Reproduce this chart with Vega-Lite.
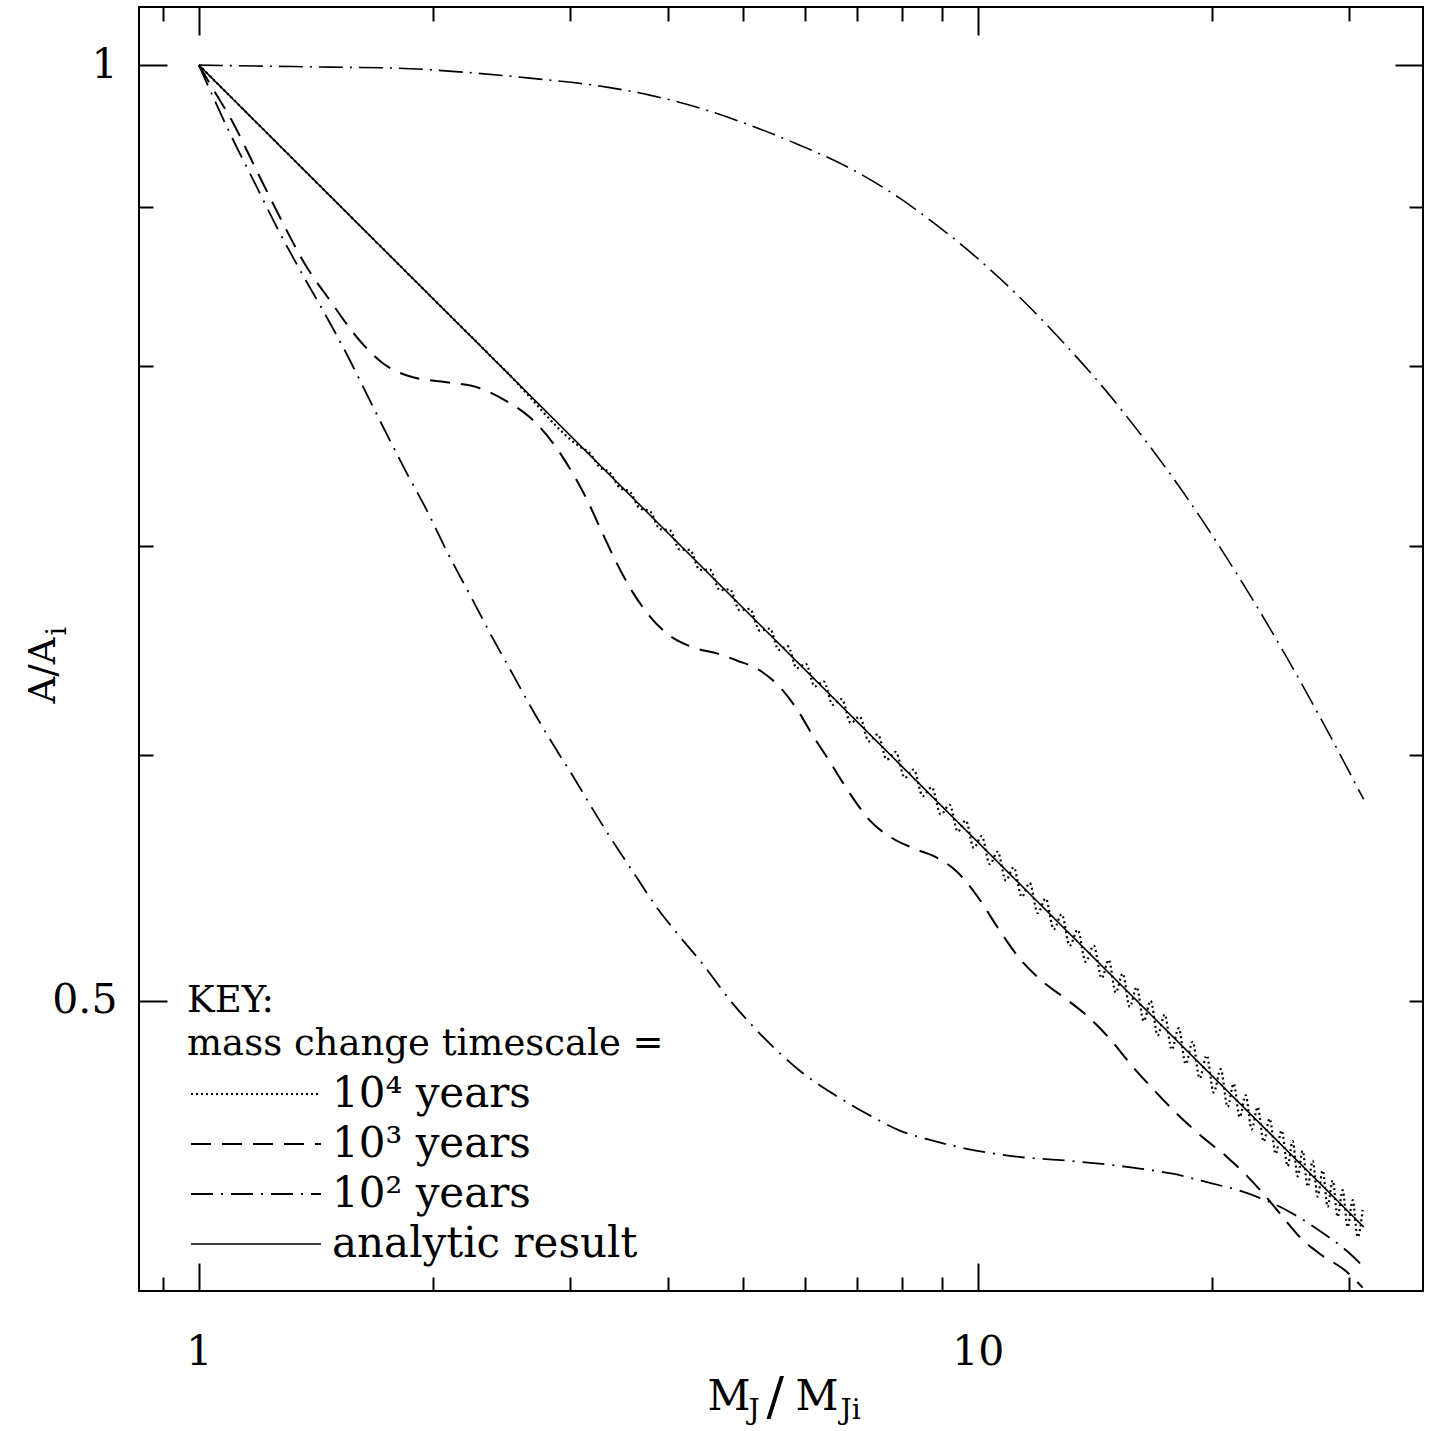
{
  "$schema": "https://vega.github.io/schema/vega-lite/v6.json",
  "autosize": {"type": "none"},
  "width": 1284,
  "height": 1284,
  "padding": {"left": 139, "top": 7, "right": 13, "bottom": 140},
  "background": "white",
  "config": {
    "view": {"stroke": "black", "strokeWidth": 2},
    "axis": {
      "tickColor": "black", "tickWidth": 2, "domain": false, "grid": false,
      "labelFont": "DejaVu Serif", "labelFontSize": 41, "labelColor": "black",
      "labelFlush": false, "labelOverlap": false,
      "titleFont": "DejaVu Serif", "titleColor": "black", "titleFontWeight": "normal"
    }
  },
  "data": {
    "values": [
      {"series": "analytic result", "M": 1, "A": 1},
      {"series": "analytic result", "M": 5, "A": 0.66874},
      {"series": "analytic result", "M": 10, "A": 0.56234},
      {"series": "analytic result", "M": 20, "A": 0.47287},
      {"series": "analytic result", "M": 31.3, "A": 0.4228},

      {"series": "10⁴ years", "M": 1, "A": 1},
      {"series": "10⁴ years", "M": 1.5, "A": 0.9036},
      {"series": "10⁴ years", "M": 2, "A": 0.8409},
      {"series": "10⁴ years", "M": 2.5, "A": 0.7953},
      {"series": "10⁴ years", "M": 3.0838, "A": 0.75372},
      {"series": "10⁴ years", "M": 3.1763, "A": 0.75013},
      {"series": "10⁴ years", "M": 3.2716, "A": 0.74232},
      {"series": "10⁴ years", "M": 3.3697, "A": 0.73948},
      {"series": "10⁴ years", "M": 3.4708, "A": 0.73108},
      {"series": "10⁴ years", "M": 3.575, "A": 0.72897},
      {"series": "10⁴ years", "M": 3.6822, "A": 0.72001},
      {"series": "10⁴ years", "M": 3.7927, "A": 0.71862},
      {"series": "10⁴ years", "M": 3.9065, "A": 0.70911},
      {"series": "10⁴ years", "M": 4.0237, "A": 0.70841},
      {"series": "10⁴ years", "M": 4.1444, "A": 0.69838},
      {"series": "10⁴ years", "M": 4.2687, "A": 0.69819},
      {"series": "10⁴ years", "M": 4.3968, "A": 0.68797},
      {"series": "10⁴ years", "M": 4.5287, "A": 0.68811},
      {"series": "10⁴ years", "M": 4.6645, "A": 0.67771},
      {"series": "10⁴ years", "M": 4.8045, "A": 0.67817},
      {"series": "10⁴ years", "M": 4.9486, "A": 0.66761},
      {"series": "10⁴ years", "M": 5.0971, "A": 0.66838},
      {"series": "10⁴ years", "M": 5.25, "A": 0.65766},
      {"series": "10⁴ years", "M": 5.4075, "A": 0.65873},
      {"series": "10⁴ years", "M": 5.5532, "A": 0.64834},
      {"series": "10⁴ years", "M": 5.7029, "A": 0.65018},
      {"series": "10⁴ years", "M": 5.8567, "A": 0.63962},
      {"series": "10⁴ years", "M": 6.0146, "A": 0.64174},
      {"series": "10⁴ years", "M": 6.1767, "A": 0.63102},
      {"series": "10⁴ years", "M": 6.3432, "A": 0.63341},
      {"series": "10⁴ years", "M": 6.5142, "A": 0.62253},
      {"series": "10⁴ years", "M": 6.6898, "A": 0.62519},
      {"series": "10⁴ years", "M": 6.8702, "A": 0.61416},
      {"series": "10⁴ years", "M": 7.0554, "A": 0.61708},
      {"series": "10⁴ years", "M": 7.2456, "A": 0.6059},
      {"series": "10⁴ years", "M": 7.4409, "A": 0.60906},
      {"series": "10⁴ years", "M": 7.6415, "A": 0.59776},
      {"series": "10⁴ years", "M": 7.8476, "A": 0.60116},
      {"series": "10⁴ years", "M": 8.0591, "A": 0.58972},
      {"series": "10⁴ years", "M": 8.2764, "A": 0.59336},
      {"series": "10⁴ years", "M": 8.4995, "A": 0.58178},
      {"series": "10⁴ years", "M": 8.7286, "A": 0.58565},
      {"series": "10⁴ years", "M": 8.964, "A": 0.57396},
      {"series": "10⁴ years", "M": 9.2056, "A": 0.57805},
      {"series": "10⁴ years", "M": 9.426, "A": 0.56666},
      {"series": "10⁴ years", "M": 9.6515, "A": 0.5714},
      {"series": "10⁴ years", "M": 9.8824, "A": 0.55987},
      {"series": "10⁴ years", "M": 10.119, "A": 0.56481},
      {"series": "10⁴ years", "M": 10.361, "A": 0.55315},
      {"series": "10⁴ years", "M": 10.609, "A": 0.55831},
      {"series": "10⁴ years", "M": 10.863, "A": 0.54652},
      {"series": "10⁴ years", "M": 11.123, "A": 0.55187},
      {"series": "10⁴ years", "M": 11.389, "A": 0.53997},
      {"series": "10⁴ years", "M": 11.661, "A": 0.54552},
      {"series": "10⁴ years", "M": 11.94, "A": 0.5335},
      {"series": "10⁴ years", "M": 12.226, "A": 0.53923},
      {"series": "10⁴ years", "M": 12.519, "A": 0.5271},
      {"series": "10⁴ years", "M": 12.818, "A": 0.53302},
      {"series": "10⁴ years", "M": 13.125, "A": 0.52078},
      {"series": "10⁴ years", "M": 13.439, "A": 0.52688},
      {"series": "10⁴ years", "M": 13.761, "A": 0.51454},
      {"series": "10⁴ years", "M": 14.09, "A": 0.52081},
      {"series": "10⁴ years", "M": 14.427, "A": 0.50837},
      {"series": "10⁴ years", "M": 14.729, "A": 0.5153},
      {"series": "10⁴ years", "M": 15.037, "A": 0.503},
      {"series": "10⁴ years", "M": 15.351, "A": 0.51011},
      {"series": "10⁴ years", "M": 15.672, "A": 0.49771},
      {"series": "10⁴ years", "M": 15.999, "A": 0.50498},
      {"series": "10⁴ years", "M": 16.334, "A": 0.49247},
      {"series": "10⁴ years", "M": 16.675, "A": 0.4999},
      {"series": "10⁴ years", "M": 17.024, "A": 0.48728},
      {"series": "10⁴ years", "M": 17.38, "A": 0.49487},
      {"series": "10⁴ years", "M": 17.743, "A": 0.48215},
      {"series": "10⁴ years", "M": 18.114, "A": 0.4899},
      {"series": "10⁴ years", "M": 18.493, "A": 0.47707},
      {"series": "10⁴ years", "M": 18.88, "A": 0.48497},
      {"series": "10⁴ years", "M": 19.274, "A": 0.47205},
      {"series": "10⁴ years", "M": 19.677, "A": 0.48009},
      {"series": "10⁴ years", "M": 20.089, "A": 0.46708},
      {"series": "10⁴ years", "M": 20.509, "A": 0.47526},
      {"series": "10⁴ years", "M": 20.937, "A": 0.46216},
      {"series": "10⁴ years", "M": 21.312, "A": 0.47015},
      {"series": "10⁴ years", "M": 21.693, "A": 0.45864},
      {"series": "10⁴ years", "M": 22.082, "A": 0.46609},
      {"series": "10⁴ years", "M": 22.477, "A": 0.4545},
      {"series": "10⁴ years", "M": 22.879, "A": 0.46207},
      {"series": "10⁴ years", "M": 23.288, "A": 0.45039},
      {"series": "10⁴ years", "M": 23.705, "A": 0.45809},
      {"series": "10⁴ years", "M": 24.129, "A": 0.44632},
      {"series": "10⁴ years", "M": 24.561, "A": 0.45413},
      {"series": "10⁴ years", "M": 25.0, "A": 0.44229},
      {"series": "10⁴ years", "M": 25.373, "A": 0.45056},
      {"series": "10⁴ years", "M": 25.75, "A": 0.43894},
      {"series": "10⁴ years", "M": 26.134, "A": 0.44733},
      {"series": "10⁴ years", "M": 26.523, "A": 0.43562},
      {"series": "10⁴ years", "M": 26.918, "A": 0.44404},
      {"series": "10⁴ years", "M": 27.319, "A": 0.43241},
      {"series": "10⁴ years", "M": 27.725, "A": 0.44086},
      {"series": "10⁴ years", "M": 28.138, "A": 0.42914},
      {"series": "10⁴ years", "M": 28.557, "A": 0.43761},
      {"series": "10⁴ years", "M": 28.982, "A": 0.42598},
      {"series": "10⁴ years", "M": 29.414, "A": 0.43448},
      {"series": "10⁴ years", "M": 29.852, "A": 0.42276},
      {"series": "10⁴ years", "M": 30.296, "A": 0.43128},
      {"series": "10⁴ years", "M": 30.747, "A": 0.41964},
      {"series": "10⁴ years", "M": 31.205, "A": 0.42815},

      {"series": "10³ years", "M": 1, "A": 1},
      {"series": "10³ years", "M": 1.0484, "A": 0.9802},
      {"series": "10³ years", "M": 1.0959, "A": 0.9622},
      {"series": "10³ years", "M": 1.1976, "A": 0.9203},
      {"series": "10³ years", "M": 1.2705, "A": 0.8934},
      {"series": "10³ years", "M": 1.3761, "A": 0.8609},
      {"series": "10³ years", "M": 1.4728, "A": 0.8401},
      {"series": "10³ years", "M": 1.5952, "A": 0.8174},
      {"series": "10³ years", "M": 1.7227, "A": 0.8018},
      {"series": "10³ years", "M": 1.8824, "A": 0.7935},
      {"series": "10³ years", "M": 2.0814, "A": 0.7906},
      {"series": "10³ years", "M": 2.2947, "A": 0.7871},
      {"series": "10³ years", "M": 2.4853, "A": 0.7795},
      {"series": "10³ years", "M": 2.6601, "A": 0.7703},
      {"series": "10³ years", "M": 2.8811, "A": 0.7528},
      {"series": "10³ years", "M": 2.994, "A": 0.7417},
      {"series": "10³ years", "M": 3.1483, "A": 0.7249},
      {"series": "10³ years", "M": 3.2716, "A": 0.71},
      {"series": "10³ years", "M": 3.4402, "A": 0.6913},
      {"series": "10³ years", "M": 3.6068, "A": 0.6766},
      {"series": "10³ years", "M": 3.7925, "A": 0.6647},
      {"series": "10³ years", "M": 3.9881, "A": 0.6563},
      {"series": "10³ years", "M": 4.3067, "A": 0.6496},
      {"series": "10³ years", "M": 4.6233, "A": 0.6467},
      {"series": "10³ years", "M": 4.9049, "A": 0.6433},
      {"series": "10³ years", "M": 5.2499, "A": 0.6386},
      {"series": "10³ years", "M": 5.6193, "A": 0.6292},
      {"series": "10³ years", "M": 5.9088, "A": 0.6185},
      {"series": "10³ years", "M": 6.1403, "A": 0.6085},
      {"series": "10³ years", "M": 6.4567, "A": 0.5969},
      {"series": "10³ years", "M": 6.7097, "A": 0.5877},
      {"series": "10³ years", "M": 6.9932, "A": 0.5786},
      {"series": "10³ years", "M": 7.2671, "A": 0.5714},
      {"series": "10³ years", "M": 7.7097, "A": 0.5646},
      {"series": "10³ years", "M": 8.3502, "A": 0.5592},
      {"series": "10³ years", "M": 8.8587, "A": 0.5559},
      {"series": "10³ years", "M": 9.3981, "A": 0.5502},
      {"series": "10³ years", "M": 9.9705, "A": 0.5405},
      {"series": "10³ years", "M": 10.672, "A": 0.5266},
      {"series": "10³ years", "M": 11.322, "A": 0.5158},
      {"series": "10³ years", "M": 12.118, "A": 0.5071},
      {"series": "10³ years", "M": 13.009, "A": 0.5004},
      {"series": "10³ years", "M": 13.801, "A": 0.4945},
      {"series": "10³ years", "M": 14.772, "A": 0.4861},
      {"series": "10³ years", "M": 15.812, "A": 0.4761},
      {"series": "10³ years", "M": 16.774, "A": 0.4684},
      {"series": "10³ years", "M": 17.796, "A": 0.4612},
      {"series": "10³ years", "M": 19.274, "A": 0.4527},
      {"series": "10³ years", "M": 20.876, "A": 0.4454},
      {"series": "10³ years", "M": 22.147, "A": 0.4392},
      {"series": "10³ years", "M": 23.496, "A": 0.4321},
      {"series": "10³ years", "M": 24.634, "A": 0.426},
      {"series": "10³ years", "M": 25.903, "A": 0.4197},
      {"series": "10³ years", "M": 27.479, "A": 0.4145},
      {"series": "10³ years", "M": 29.764, "A": 0.409},
      {"series": "10³ years", "M": 31.205, "A": 0.4042},

      {"series": "10² years", "M": 1, "A": 1},
      {"series": "10² years", "M": 1.0959, "A": 0.9508},
      {"series": "10² years", "M": 1.187, "A": 0.9135},
      {"series": "10² years", "M": 1.2593, "A": 0.8868},
      {"series": "10² years", "M": 1.3599, "A": 0.8558},
      {"series": "10² years", "M": 1.4427, "A": 0.8339},
      {"series": "10² years", "M": 1.5626, "A": 0.8036},
      {"series": "10² years", "M": 1.6577, "A": 0.78},
      {"series": "10² years", "M": 1.7587, "A": 0.7573},
      {"series": "10² years", "M": 1.8493, "A": 0.739},
      {"series": "10² years", "M": 1.9619, "A": 0.719},
      {"series": "10² years", "M": 2.0814, "A": 0.6975},
      {"series": "10² years", "M": 2.2477, "A": 0.6726},
      {"series": "10² years", "M": 2.3846, "A": 0.6539},
      {"series": "10² years", "M": 2.5298, "A": 0.6367},
      {"series": "10² years", "M": 2.6838, "A": 0.6199},
      {"series": "10² years", "M": 2.8811, "A": 0.6018},
      {"series": "10² years", "M": 3.0566, "A": 0.5877},
      {"series": "10² years", "M": 3.2046, "A": 0.5761},
      {"series": "10² years", "M": 3.4402, "A": 0.5601},
      {"series": "10² years", "M": 3.6497, "A": 0.5477},
      {"series": "10² years", "M": 3.872, "A": 0.5357},
      {"series": "10² years", "M": 4.1444, "A": 0.5243},
      {"series": "10² years", "M": 4.3967, "A": 0.5151},
      {"series": "10² years", "M": 4.8472, "A": 0.4989},
      {"series": "10² years", "M": 5.3597, "A": 0.4854},
      {"series": "10² years", "M": 5.9088, "A": 0.4747},
      {"series": "10² years", "M": 6.5142, "A": 0.4667},
      {"series": "10² years", "M": 7.203, "A": 0.4598},
      {"series": "10² years", "M": 7.9406, "A": 0.4541},
      {"series": "10² years", "M": 8.7541, "A": 0.4507},
      {"series": "10² years", "M": 9.6801, "A": 0.448},
      {"series": "10² years", "M": 11.222, "A": 0.4454},
      {"series": "10² years", "M": 13.009, "A": 0.4441},
      {"series": "10² years", "M": 15.812, "A": 0.4418},
      {"series": "10² years", "M": 17.796, "A": 0.4398},
      {"series": "10² years", "M": 20.029, "A": 0.4366},
      {"series": "10² years", "M": 21.693, "A": 0.4343},
      {"series": "10² years", "M": 23.496, "A": 0.4311},
      {"series": "10² years", "M": 25.373, "A": 0.427},
      {"series": "10² years", "M": 27.479, "A": 0.4216},
      {"series": "10² years", "M": 29.764, "A": 0.4154},
      {"series": "10² years", "M": 31.39, "A": 0.4102},

      {"series": "unlabelled", "M": 1, "A": 1},
      {"series": "unlabelled", "M": 1.2083, "A": 0.99926},
      {"series": "unlabelled", "M": 1.4728, "A": 0.99852},
      {"series": "unlabelled", "M": 1.7954, "A": 0.99778},
      {"series": "unlabelled", "M": 2.1822, "A": 0.99482},
      {"series": "unlabelled", "M": 2.6601, "A": 0.99041},
      {"series": "unlabelled", "M": 3.34, "A": 0.98382},
      {"series": "unlabelled", "M": 3.7927, "A": 0.97801},
      {"series": "unlabelled", "M": 4.3968, "A": 0.96863},
      {"series": "unlabelled", "M": 5.097, "A": 0.9565},
      {"series": "unlabelled", "M": 5.9088, "A": 0.94242},
      {"series": "unlabelled", "M": 6.8497, "A": 0.92648},
      {"series": "unlabelled", "M": 7.9406, "A": 0.90611},
      {"series": "unlabelled", "M": 8.7541, "A": 0.89013},
      {"series": "unlabelled", "M": 9.6801, "A": 0.87249},
      {"series": "unlabelled", "M": 10.672, "A": 0.85393},
      {"series": "unlabelled", "M": 11.765, "A": 0.83391},
      {"series": "unlabelled", "M": 13.009, "A": 0.81195},
      {"series": "unlabelled", "M": 14.342, "A": 0.78998},
      {"series": "unlabelled", "M": 16.48, "A": 0.75617},
      {"series": "unlabelled", "M": 18.552, "A": 0.72596},
      {"series": "unlabelled", "M": 20.45, "A": 0.6998},
      {"series": "unlabelled", "M": 22.538, "A": 0.67309},
      {"series": "unlabelled", "M": 24.933, "A": 0.64477},
      {"series": "unlabelled", "M": 27.479, "A": 0.61717},
      {"series": "unlabelled", "M": 31.302, "A": 0.58034}
    ]
  },
  "resolve": {"axis": {"x": "independent", "y": "independent"}},
  "layer": [
    {
      "transform": [{"filter": {"field": "series", "oneOf": ["10⁴ years", "10³ years", "10² years", "analytic result"]}}],
      "mark": {"type": "line", "color": "black", "interpolate": "monotone", "clip": true},
      "encoding": {
        "x": {"field": "M", "type": "quantitative",
          "scale": {"type": "log", "domain": [0.8377, 37.3], "nice": false},
          "axis": {"orient": "bottom", "values": [1, 10], "tickSize": -28, "labelPadding": 69, "format": "~g",
            "title": "M", "titleFontSize": 42, "titleX": 568, "titleY": 118, "titleAlign": "left", "titleBaseline": "alphabetic", "titleAngle": 0}},
        "y": {"field": "A", "type": "quantitative",
          "scale": {"type": "log", "domain": [0.4032, 1.044], "nice": false},
          "axis": {"orient": "left", "values": [0.5, 1], "tickSize": -28, "labelPadding": 50, "format": "~g",
            "title": "A/A", "titleFontSize": 37, "titleX": -85, "titleY": 696, "titleAlign": "left", "titleBaseline": "alphabetic", "titleAngle": 270}},
        "strokeWidth": {"field": "series", "type": "nominal",
          "scale": {"domain": ["10⁴ years", "10³ years", "10² years", "analytic result"], "range": [2.2, 1.6, 1.6, 1.6]},
          "legend": null},
        "strokeDash": {"field": "series", "type": "nominal",
          "scale": {"domain": ["10⁴ years", "10³ years", "10² years", "analytic result"],
                    "range": [[2, 3], [20, 11], [22, 8, 2, 8], [1, 0]]},
          "legend": {
            "orient": "none", "legendX": 48, "legendY": 976,
            "title": ["KEY:", "mass change timescale ="],
            "titleFont": "DejaVu Serif", "titleFontSize": 37, "titleFontWeight": "normal", "titleColor": "black",
            "titleLineHeight": 43, "titlePadding": 10, "titleLimit": 0,
            "labelFont": "DejaVu Serif", "labelFontSize": 42, "labelColor": "black", "labelOffset": 103, "labelLimit": 0,
            "symbolType": "M-3.4,0H22.6", "symbolSize": 100, "symbolStrokeWidth": 1.6, "symbolStrokeColor": "black",
            "symbolFillColor": "transparent", "rowPadding": 8, "padding": 0, "offset": 0,
            "encode": {"symbols": {"update": {"strokeDash": {"signal": "datum.value === '10⁴ years' ? [2, 14] : scale('strokeDash', datum.value)"}}}}
          }}
      }
    },
    {
      "transform": [{"filter": {"field": "series", "equal": "unlabelled"}}],
      "mark": {"type": "line", "color": "black", "strokeWidth": 1.6, "interpolate": "monotone", "strokeDash": [24, 7, 2, 7], "clip": true},
      "encoding": {
        "x": {"field": "M", "type": "quantitative",
          "scale": {"type": "log", "domain": [0.8377, 37.3], "nice": false},
          "axis": {"orient": "bottom", "values": [0.9, 2, 3, 4, 5, 6, 7, 8, 9, 20, 30], "tickSize": -14, "labels": false,
            "title": "J", "titleFontSize": 28, "titleX": 609, "titleY": 127, "titleAlign": "left", "titleBaseline": "alphabetic", "titleAngle": 0}},
        "y": {"field": "A", "type": "quantitative",
          "scale": {"type": "log", "domain": [0.4032, 1.044], "nice": false},
          "axis": {"orient": "left", "values": [0.6, 0.7, 0.8, 0.9], "tickSize": -14, "labels": false,
            "title": "i", "titleFontSize": 27, "titleX": -74, "titleY": 628, "titleAlign": "left", "titleBaseline": "alphabetic", "titleAngle": 270}}
      }
    },
    {
      "transform": [{"filter": {"field": "series", "equal": "unlabelled"}}],
      "mark": {"type": "line", "opacity": 0},
      "encoding": {
        "x": {"field": "M", "type": "quantitative",
          "scale": {"type": "log", "domain": [0.8377, 37.3], "nice": false},
          "axis": {"orient": "top", "values": [1, 10], "tickSize": -28, "labels": false,
            "title": "/", "titleFontSize": 52, "titleX": 627, "titleY": 1406, "titleAlign": "left", "titleBaseline": "alphabetic", "titleAngle": 0}},
        "y": {"field": "A", "type": "quantitative",
          "scale": {"type": "log", "domain": [0.4032, 1.044], "nice": false},
          "axis": {"orient": "right", "values": [1], "tickSize": -28, "labels": false, "title": null}}
      }
    },
    {
      "transform": [{"filter": {"field": "series", "equal": "unlabelled"}}],
      "mark": {"type": "line", "opacity": 0},
      "encoding": {
        "x": {"field": "M", "type": "quantitative",
          "scale": {"type": "log", "domain": [0.8377, 37.3], "nice": false},
          "axis": {"orient": "top", "values": [0.9, 2, 3, 4, 5, 6, 7, 8, 9, 20, 30], "tickSize": -14, "labels": false,
            "title": "M", "titleFontSize": 42, "titleX": 656, "titleY": 1402, "titleAlign": "left", "titleBaseline": "alphabetic", "titleAngle": 0}},
        "y": {"field": "A", "type": "quantitative",
          "scale": {"type": "log", "domain": [0.4032, 1.044], "nice": false},
          "axis": {"orient": "right", "values": [0.5, 0.6, 0.7, 0.8, 0.9], "tickSize": -14, "labels": false, "title": null}}
      }
    },
    {
      "transform": [{"filter": {"field": "series", "equal": "unlabelled"}}],
      "mark": {"type": "line", "opacity": 0},
      "encoding": {
        "x": {"field": "M", "type": "quantitative",
          "scale": {"type": "log", "domain": [0.8377, 37.3], "nice": false},
          "axis": {"orient": "bottom", "ticks": false, "labels": false,
            "title": "Ji", "titleFontSize": 28, "titleX": 701, "titleY": 127, "titleAlign": "left", "titleBaseline": "alphabetic", "titleAngle": 0}},
        "y": {"field": "A", "type": "quantitative",
          "scale": {"type": "log", "domain": [0.4032, 1.044], "nice": false},
          "axis": null}
      }
    }
  ]
}
